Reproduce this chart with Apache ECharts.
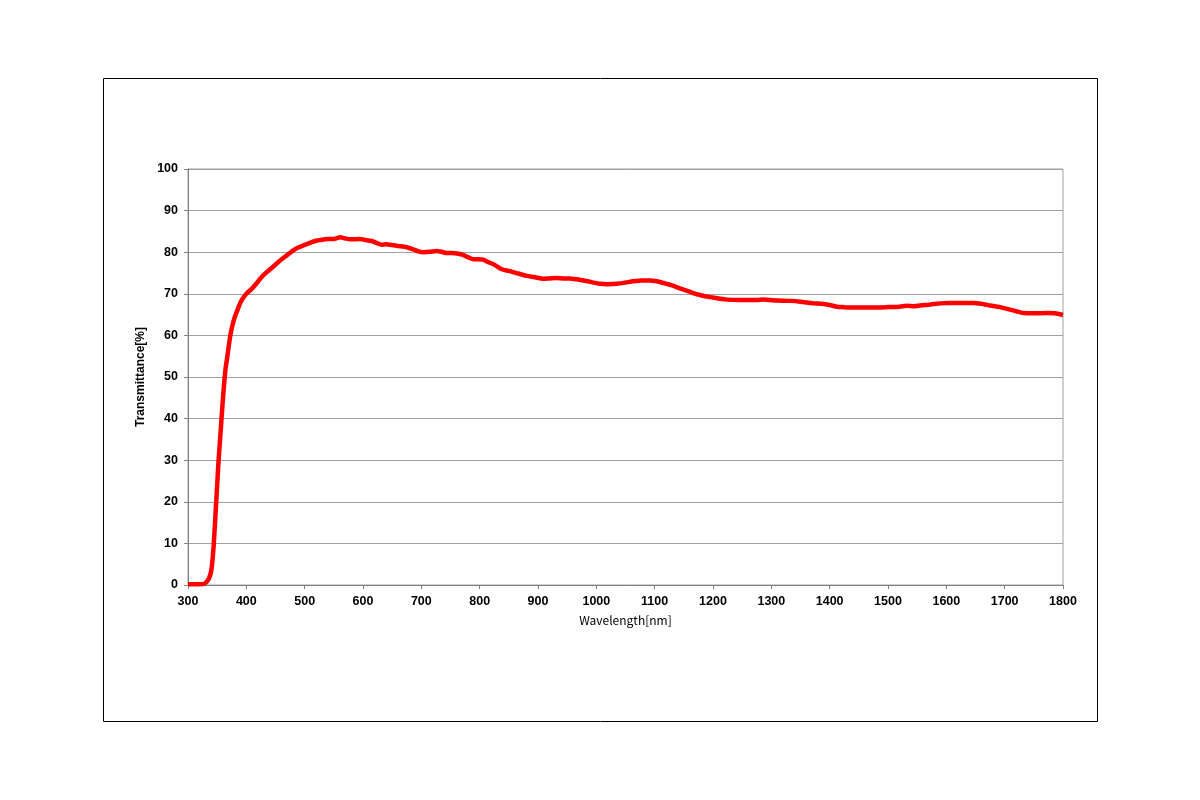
<!DOCTYPE html>
<html>
<head>
<meta charset="utf-8">
<script src="https://cdn.jsdelivr.net/npm/echarts@6/dist/echarts.min.js"></script>
<style>html,body{margin:0;padding:0;background:#fff;}#c{width:1200px;height:800px;}</style>
</head>
<body>
<div id="c"></div>
<script>
const wavelength = [300,310,320,328,332,336,340,344,348,352,356,360,364,368,372,376,380,385,390,395,400,410,418,426,435,445,458,470,481,490,501,510,521,530,538,550,561,570,578,587,595,605,615,624,632,640,646,660,675,686,695,703,715,726,735,743,752,761,770,780,789,797,806,815,825,838,850,865,881,895,909,920,932,945,955,966,978,992,1006,1020,1035,1050,1063,1078,1092,1104,1115,1130,1143,1158,1172,1186,1200,1212,1224,1245,1263,1275,1286,1310,1332,1350,1372,1386,1400,1412,1423,1440,1452,1475,1500,1520,1532,1545,1555,1572,1589,1605,1618,1632,1646,1660,1675,1692,1709,1720,1732,1750,1772,1786,1800];
const transmittance = [0.2,0.2,0.2,0.3,0.8,1.6,3.5,9.5,19,29,37,45,51.5,55.5,59.5,62.3,64.3,66.2,67.9,69.1,70.0,71.3,72.6,74.0,75.2,76.4,78.0,79.3,80.5,81.2,81.8,82.3,82.8,83.0,83.2,83.2,83.6,83.3,83.1,83.1,83.2,82.9,82.7,82.2,81.8,81.9,81.8,81.5,81.2,80.7,80.2,80.0,80.1,80.3,80.1,79.8,79.8,79.7,79.4,78.8,78.3,78.3,78.2,77.6,77.0,75.9,75.5,74.9,74.3,74.0,73.6,73.7,73.8,73.7,73.7,73.5,73.2,72.8,72.4,72.3,72.4,72.7,73.0,73.2,73.2,73.0,72.6,72.0,71.3,70.6,69.9,69.4,69.1,68.8,68.6,68.5,68.5,68.5,68.6,68.4,68.3,68.1,67.7,67.6,67.3,66.9,66.8,66.7,66.7,66.7,66.8,66.9,67.1,67.0,67.2,67.4,67.7,67.8,67.8,67.8,67.8,67.6,67.2,66.8,66.2,65.8,65.4,65.3,65.4,65.3,64.9];
const xTitle = 'Wavelength[nm]';
const yTitle = 'Transmittance[%]';

const chart = echarts.init(document.getElementById('c'), null, {renderer: 'canvas'});
const numFont = '"Liberation Sans", Arial, sans-serif';
const jpFont = '"Noto Sans CJK JP", "Noto Sans", sans-serif';
chart.setOption({
  animation: false,
  backgroundColor: '#fff',
  graphic: [{
    type: 'rect', shape: {x: 103.5, y: 78.5, width: 994, height: 643},
    style: {fill: 'none', stroke: '#000', lineWidth: 1}, silent: true
  }],
  grid: {left: 188, right: 137, top: 169, bottom: 215, show: true, borderColor: '#a0a0a0', borderWidth: 1},
  xAxis: {
    type: 'value', min: 300, max: 1800, interval: 100,
    name: xTitle, nameLocation: 'middle', nameGap: 29,
    nameTextStyle: {color: '#000', fontSize: 12, fontFamily: jpFont},
    axisLine: {show: true, lineStyle: {color: '#808080', width: 1}},
    axisTick: {show: true, inside: false, length: 4, lineStyle: {color: '#808080'}},
    axisLabel: {color: '#000', fontSize: 12.5, fontFamily: numFont, fontWeight: 'bold', margin: 10, formatter: v => String(v)},
    splitLine: {show: false}
  },
  yAxis: {
    type: 'value', min: 0, max: 100, interval: 10,
    name: yTitle, nameLocation: 'middle', nameGap: 41, nameRotate: 90,
    nameTextStyle: {color: '#000', fontSize: 12, fontFamily: numFont, fontWeight: 'bold'},
    axisLine: {show: true, lineStyle: {color: '#808080', width: 1}},
    axisTick: {show: true, inside: false, length: 4, lineStyle: {color: '#808080'}},
    axisLabel: {color: '#000', fontSize: 12.5, fontFamily: numFont, fontWeight: 'bold', margin: 10, formatter: v => String(v)},
    splitLine: {show: true, lineStyle: {color: '#a0a0a0', width: 1}}
  },
  series: [{
    type: 'line',
    data: wavelength.map((w, i) => [w, transmittance[i]]),
    showSymbol: false,
    smooth: 0.2,
    lineStyle: {color: '#ff0000', width: 4.5},
    itemStyle: {color: '#ff0000'}
  }]
});
</script>
</body>
</html>
